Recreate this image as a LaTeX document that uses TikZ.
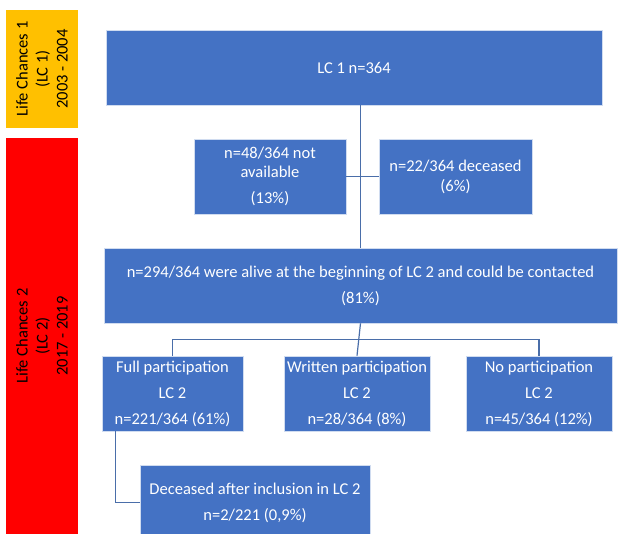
\documentclass[tikz,border=0pt]{standalone}
\usepackage{fontspec}
\setmainfont{Carlito}
\usepackage{xcolor}
\usetikzlibrary{calc}
\definecolor{boxblue}{HTML}{4472C4}
\definecolor{lineblue}{HTML}{4A6EA9}
\definecolor{periodone}{HTML}{FFC000}
\definecolor{periodtwo}{HTML}{FF0000}
\tikzstyle{box}=[rectangle, fill=boxblue, draw=white!75!boxblue, line width=0.6pt, text=white, align=center, inner sep=2pt, minimum height=75pt, font=\fontsize{16.5}{19}\selectfont]
\tikzstyle{period}=[rectangle, rotate=90, minimum height=72pt, inner sep=0pt, align=center, text=black, font=\fontsize{16.5}{20}\selectfont]
\tikzstyle{link}=[draw=lineblue, line width=1.2pt]
\newcommand{\gap}{7pt}

\begin{document}
\begin{tikzpicture}[x=1pt,y=1pt]
\useasboundingbox (0,0) rectangle (619,-534);
\node[period, fill=periodone, minimum width=118pt] (lcone) at (42,-69) {Life Chances 1\\(LC 1)\\2003 - 2004};
\node[period, fill=periodtwo, minimum width=396pt] (lctwo) at (42,-336) {Life Chances 2\\(LC 2)\\2017 - 2019};
\node[box, minimum width=496pt] (start) at (354,-67.5) {LC 1 n=364};
\node[box, minimum width=152pt] (notavail) at (270,-176.5) {n=48/364 not\\available\\[\gap](13\%)};
\node[box, minimum width=153pt] (deceased) at (455.5,-176.5) {n=22/364 deceased\\[1pt](6\%)};
\node[box, minimum width=513pt] (alive) at (360.5,-285.5) {n=294/364 were alive at the beginning of LC 2 and could be contacted\\[\gap](81\%)};
\node[box, minimum width=141pt] (full) at (172.5,-393.5) {Full participation\\[\gap]LC 2\\[\gap]n=221/364 (61\%)};
\node[box, minimum width=146pt] (written) at (357,-393.5) {Written participation\\[\gap]LC 2\\[\gap]n=28/364 (8\%)};
\node[box, minimum width=146pt] (nopart) at (539,-393.5) {No participation\\[\gap]LC 2\\[\gap]n=45/364 (12\%)};
\node[box, minimum width=230pt] (later) at (255,-502.5) {Deceased after inclusion in LC 2\\[\gap]n=2/221 (0,9\%)};
\coordinate (split) at ($(alive.south)!.5!(written.north)$);
\coordinate (fulltap) at ($(full.south west)+(14,0)$);
\draw[link] (alive.north) -- (alive.north |- start.south);
\draw[link] (notavail.east) -- (deceased.west);
\draw[link] (alive.south) -- (written.north);
\draw[link] (full.north) |- (split) -| (nopart.north);
\draw[link] (fulltap) |- (later.west);
\end{tikzpicture}
\end{document}
